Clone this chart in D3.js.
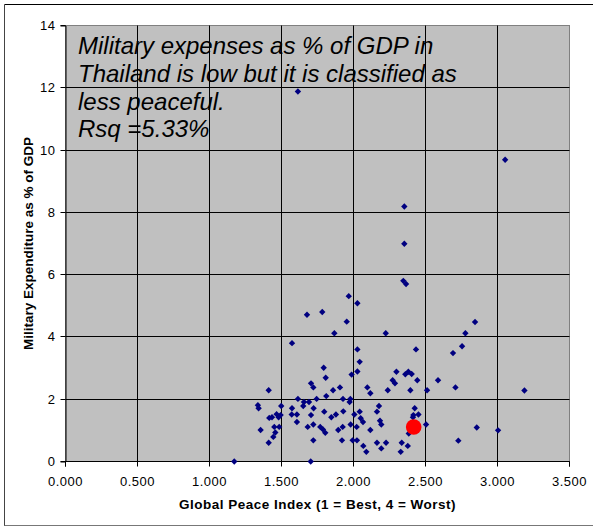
<!DOCTYPE html>
<html>
<head>
<meta charset="utf-8">
<script src="https://cdn.jsdelivr.net/npm/d3@7"></script>
<style>
  html, body { margin: 0; padding: 0; background: #fff; }
  svg { display: block; font-family: Arial, "Liberation Sans", sans-serif; }
</style>
</head>
<body>
<svg id="chart" width="593" height="527"></svg>
<script>
// Global Peace Index (x) vs Military expenditure % of GDP (y)
const gpi = [
  2.346, 2.365, 1.967, 2.027, 1.677, 1.783, 1.953, 1.867, 2.224, 1.573,
  2.027, 2.434, 2.043, 1.793, 2.027, 1.987, 1.807, 2.298, 2.360, 2.381,
  2.404, 2.272, 2.288, 2.443, 2.587, 1.705, 1.721, 1.906, 1.858, 2.096,
  2.117, 2.238, 2.395, 2.511, 1.411, 1.811, 1.614, 1.744, 1.927, 1.978,
  1.973, 1.656, 1.691, 1.651, 1.336, 1.341, 1.498, 1.573, 1.723, 2.177,
  2.425, 2.163, 1.929, 1.797, 2.043, 1.705, 1.571, 1.607, 1.466, 1.494,
  1.434, 1.480, 1.878, 1.846, 2.006, 2.416, 2.451, 2.413, 2.050, 2.066,
  2.184, 2.193, 1.607, 1.980, 1.721, 1.682, 1.769, 1.788, 1.804, 1.925,
  1.894, 2.022, 1.450, 1.484, 1.457, 1.443, 1.355, 2.117, 2.504, 2.384,
  1.411, 1.721, 1.920, 1.994, 2.024, 2.068, 2.089, 2.163, 2.226, 2.193,
  2.335, 2.377, 2.328, 1.703, 1.415, 1.172, 1.614, 3.053, 2.353, 2.353,
  2.844, 2.777, 2.754, 2.691, 2.708, 3.187, 2.856, 3.004, 2.728
];
const milex = [
  5.80, 5.70, 5.31, 5.08, 4.71, 4.80, 4.49, 4.12, 4.12, 3.80,
  3.60, 3.60, 3.20, 3.01, 2.89, 2.79, 2.69, 2.88, 2.80, 2.88,
  2.81, 2.61, 2.51, 2.61, 2.61, 2.51, 2.38, 2.38, 2.29, 2.38,
  2.19, 2.29, 2.29, 2.29, 2.29, 2.10, 2.01, 2.01, 2.01, 2.01,
  1.91, 1.91, 1.91, 1.78, 1.81, 1.71, 1.78, 1.71, 1.71, 1.78,
  1.71, 1.60, 1.61, 1.60, 1.60, 1.49, 1.51, 1.51, 1.52, 1.49,
  1.42, 1.42, 1.51, 1.42, 1.51, 1.49, 1.51, 1.42, 1.39, 1.27,
  1.31, 1.19, 1.27, 1.19, 1.19, 1.11, 1.11, 1.03, 0.92, 1.11,
  1.01, 1.11, 1.11, 1.11, 0.93, 0.79, 1.01, 1.01, 1.19, 0.90,
  0.60, 0.68, 0.68, 0.68, 0.68, 0.50, 0.31, 0.60, 0.60, 0.42,
  0.60, 0.50, 0.31, 0.00, 1.40, 0.00, 11.88, 9.69, 8.19, 6.99,
  4.48, 4.12, 3.70, 3.48, 2.38, 2.28, 1.09, 1.00, 0.67
];
// Highlighted country: Thailand
const highlightGpi = [2.418];
const highlightMilex = [1.11];

const xTicks = [0, 0.5, 1, 1.5, 2, 2.5, 3, 3.5];
const yTicks = [0, 2, 4, 6, 8, 10, 12, 14];

const noteLines = [
  "Military expenses as % of GDP in",
  "Thailand is low but it is classified as",
  "less peaceful.",
  "Rsq =5.33%"
];
const xTitle = "Global Peace Index (1 = Best, 4 = Worst)";
const yTitle = "Military Expenditure as % of GDP";

const svg = d3.select("#chart");

// outer frame
svg.append("line").attr("x1", 4.5).attr("x2", 593).attr("y1", 4.5).attr("y2", 4.5).attr("stroke", "#000");
svg.append("line").attr("x1", 4.5).attr("x2", 4.5).attr("y1", 4.5).attr("y2", 526).attr("stroke", "#444");
svg.append("line").attr("x1", 4.5).attr("x2", 593).attr("y1", 525.5).attr("y2", 525.5).attr("stroke", "#777");

const x = d3.scaleLinear().domain([0, 3.5]).range([65.5, 569.5]);
const y = d3.scaleLinear().domain([0, 14]).range([461.5, 25.5]);
const px = v => Math.round(x(v) - 0.5) + 0.5;
const py = v => Math.round(y(v) - 0.5) + 0.5;

// plot area
svg.append("rect")
  .attr("x", x(0)).attr("y", y(14))
  .attr("width", x(3.5) - x(0)).attr("height", y(0) - y(14))
  .attr("fill", "#C0C0C0").attr("stroke", "#808080").attr("stroke-width", 1);

// gridlines
const grid = svg.append("g").attr("stroke", "#000").attr("stroke-width", 1);
xTicks.filter(v => v > 0 && v < 3.5).forEach(v => {
  grid.append("line").attr("x1", px(v)).attr("x2", px(v)).attr("y1", y(14)).attr("y2", y(0));
});
yTicks.filter(v => v > 0 && v < 14).forEach(v => {
  grid.append("line").attr("x1", x(0)).attr("x2", x(3.5)).attr("y1", py(v)).attr("y2", py(v));
});

// axes
const xAxis = d3.axisBottom(x).tickValues(xTicks).tickFormat(d3.format(".3f")).tickSize(5).tickPadding(6);
const yAxis = d3.axisLeft(y).tickValues(yTicks).tickFormat(d3.format("d")).tickSize(5).tickPadding(6);

const gx = svg.append("g").attr("transform", `translate(0,${py(0)})`).call(xAxis);
const gy = svg.append("g").attr("transform", `translate(${px(0)},0)`).call(yAxis);
[gx, gy].forEach(g => {
  g.select(".domain").attr("stroke", "#000").attr("stroke-width", 1);
  g.selectAll(".tick line").attr("stroke", "#000");
  g.selectAll(".tick text")
    .attr("fill", "#000")
    .style("font-family", 'Arial, "Liberation Sans", sans-serif')
    .style("font-size", "13px")
    .style("letter-spacing", "0.5px");
});
gx.select(".domain").attr("d", `M${x(0)},5V0H${x(3.5)}V5`);
gx.selectAll(".tick line").attr("transform", "translate(0,0)");
gx.selectAll(".tick").attr("transform", d => `translate(${px(d)},0)`);
gy.selectAll(".tick").attr("transform", d => `translate(0,${py(d)})`);
gx.selectAll(".tick text").attr("y", 0).attr("dy", "1.85em");
gy.selectAll(".tick text").attr("x", -10).attr("dy", "0.36em");

// points
const pts = gpi.map((g, i) => ({ g, m: milex[i] }));
const diamond = d3.symbol().type(d3.symbolDiamond2).size(26);
svg.append("g").selectAll("path").data(pts).join("path")
  .attr("d", diamond)
  .attr("transform", d => `translate(${x(d.g)},${y(d.m)}) rotate(0)`)
  .attr("fill", "#000080");

// highlight
svg.append("g").selectAll("circle").data(highlightGpi.map((g, i) => ({ g, m: highlightMilex[i] }))).join("circle")
  .attr("cx", d => x(d.g)).attr("cy", d => y(d.m)).attr("r", 7.8)
  .attr("fill", "#FF0000");

// annotation
const note = svg.append("text")
  .attr("x", 78).attr("y", 54.3)
  .style("font-size", "24px").style("font-style", "italic").attr("fill", "#000");
noteLines.forEach((t, i) => {
  note.append("tspan").attr("x", 78).attr("y", 54.3 + i * 27.7).text(t);
});

// axis titles
svg.append("text")
  .attr("x", (x(0) + x(3.5)) / 2).attr("y", 509)
  .attr("text-anchor", "middle")
  .style("font-size", "13.5px").style("font-weight", "bold").style("letter-spacing", "0.5px")
  .text(xTitle);

svg.append("text")
  .attr("transform", `translate(32.5,${(y(0) + y(14)) / 2}) rotate(-90)`)
  .attr("text-anchor", "middle")
  .style("font-size", "13.5px").style("font-weight", "bold")
  .text(yTitle);
</script>
</body>
</html>
